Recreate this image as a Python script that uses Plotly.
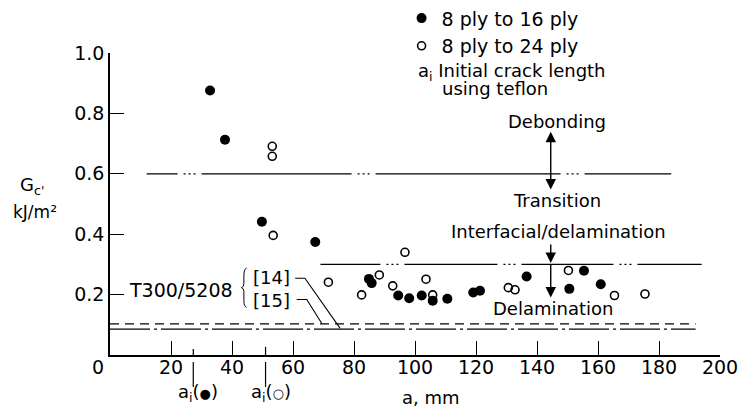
import plotly.graph_objects as go

# Critical strain energy release rate vs crack length, T300/5208 specimens
filled_a = [32.8, 37.7, 49.8, 67.3, 84.9, 85.8, 94.5, 98.1, 102.2, 105.8,
            110.6, 119.1, 121.3, 136.6, 150.6, 155.4, 160.9]
filled_g = [0.876, 0.713, 0.441, 0.374, 0.252, 0.238, 0.197, 0.188, 0.197, 0.180,
            0.186, 0.207, 0.213, 0.260, 0.219, 0.279, 0.234]

open_a = [53.2, 53.2, 53.5, 71.6, 82.5, 88.3, 92.7, 96.7, 103.6, 105.8,
          130.6, 132.8, 150.3, 165.4, 175.4]
open_g = [0.691, 0.658, 0.396, 0.241, 0.199, 0.265, 0.229, 0.340, 0.251, 0.199,
          0.223, 0.216, 0.280, 0.197, 0.202]

series_names = ["8 ply to 16 ply", "8 ply to 24 ply"]

# Failure-mode boundaries and literature values
debond_level, debond_span = 0.6, [12, 184]
delam_level, delam_span = 0.3, [69, 194]
ref14_level, ref15_level = 0.086, 0.103
ref_span = [0, 192]

# Initial crack lengths (teflon inserts)
ai_filled, ai_open = 27.3, 51.0

x_ticks = [0, 20, 40, 60, 80, 100, 120, 140, 160, 180, 200]
y_ticks = [0.2, 0.4, 0.6, 0.8, 1.0]

X_MAX = 200.0
FONT = "DejaVu Sans"
INK = "black"


def dots(gap=6):
    return [gap, 2, 3, 2, 3, 2, gap]


def dash(parts):
    return ",".join(f"{p}px" for p in parts)


debond_dash = dash([31] + dots() + [150] + dots() + [185] + dots() + [200, 10])
delam_dash = dash([60] + dots() + [93] + dots() + [92] + dots() + [80, 10])

fig = go.Figure()

# boundary lines
fig.add_trace(go.Scatter(x=debond_span, y=[debond_level] * 2, mode="lines",
                         line=dict(color=INK, width=1.2, dash=debond_dash),
                         showlegend=False, hoverinfo="skip"))
fig.add_trace(go.Scatter(x=delam_span, y=[delam_level] * 2, mode="lines",
                         line=dict(color=INK, width=1.2, dash=delam_dash),
                         showlegend=False, hoverinfo="skip"))
fig.add_trace(go.Scatter(x=ref_span, y=[ref15_level] * 2, mode="lines",
                         line=dict(color=INK, width=1.1, dash="9px,6px"),
                         showlegend=False, hoverinfo="skip"))
fig.add_trace(go.Scatter(x=ref_span, y=[ref14_level] * 2, mode="lines",
                         line=dict(color=INK, width=1.3, dash="40px,4px,3px,4px"),
                         showlegend=False, hoverinfo="skip"))

# measured points
fig.add_trace(go.Scatter(x=filled_a, y=filled_g, mode="markers", name=series_names[0],
                         marker=dict(symbol="circle", size=10, color=INK),
                         cliponaxis=False))
fig.add_trace(go.Scatter(x=open_a, y=open_g, mode="markers", name=series_names[1],
                         marker=dict(symbol="circle-open", size=8, color=INK,
                                     line=dict(width=1.6, color=INK)),
                         cliponaxis=False))

ann = []


def label(x, y, text, size=18, xanchor="center", outside=False):
    # y axis spans 0..1, so a value maps straight onto paper height
    ann.append(dict(x=x / X_MAX if outside else x, y=y,
                    xref="paper" if outside else "x",
                    yref="paper" if outside else "y",
                    text=text, showarrow=False,
                    xanchor=xanchor, yanchor="middle",
                    font=dict(family=FONT, size=size, color=INK)))


label(146.5, 0.772, "Debonding")
label(146.5, 0.513, "Transition")
label(147.0, 0.408, "Interfacial/delamination")
label(145.2, 0.155, "Delamination")
label(23.3, 0.215, "T300/5208", size=19)
label(52.8, 0.255, "[14]")
label(52.8, 0.182, "[15]")
label(100.2, 0.937, "a<sub>i</sub> Initial crack length", xanchor="left")
label(108.3, 0.882, "using teflon", xanchor="left")
label(105.2, -0.142, "a, mm", outside=True)
label(28.9, -0.126, "a<sub>i</sub>(<span style='font-size:13px'>●</span>)", outside=True)
label(52.8, -0.126, "a<sub>i</sub>(<span style='font-size:13px'>○</span>)", outside=True)
label(-25.6, 0.56, "G<sub>c'</sub>", outside=True)
label(-24.6, 0.473, "kJ/m²", size=17, outside=True)


def arrow(x, y_tip, y_tail, both=False):
    ann.append(dict(x=x, y=y_tip, ax=x, ay=y_tail, xref="x", yref="y",
                    axref="x", ayref="y", text="", showarrow=True,
                    arrowhead=2, arrowsize=1.5, arrowwidth=1.4, arrowcolor=INK,
                    startarrowhead=2, startarrowsize=1.5,
                    arrowside="end+start" if both else "end",
                    standoff=0, startstandoff=0))


arrow(144.5, 0.739, 0.543, both=True)
arrow(144.5, 0.305, 0.371)
arrow(144.5, 0.190, 0.305)

shapes = []
line_style = dict(color=INK, width=1.2)
# initial crack length markers on the a axis
for xv, inner in ((ai_filled, 0.02), (ai_open, 0.027)):
    shapes.append(dict(type="line", xref="x", yref="paper", x0=xv, x1=xv,
                       y0=-0.023, y1=-0.106, line=line_style))
    shapes.append(dict(type="line", xref="x", yref="paper", x0=xv, x1=xv,
                       y0=0, y1=inner, line=line_style))

# leader lines for the literature references
shapes.append(dict(type="path", xref="x", yref="y",
                   path="M 60.7,0.254 L 63.9,0.254 L 75.4,0.089",
                   line=dict(color=INK, width=1.1)))
shapes.append(dict(type="path", xref="x", yref="y",
                   path="M 61.2,0.184 L 64.5,0.184 L 69.4,0.105",
                   line=dict(color=INK, width=1.1)))
# brace grouping [14] and [15]
shapes.append(dict(type="path", xref="x", yref="y",
                   path="M 44.8,0.288 Q 43.9,0.285 43.9,0.262 L 43.9,0.236 "
                        "Q 43.9,0.225 43.1,0.223 Q 43.9,0.221 43.9,0.21 "
                        "L 43.9,0.18 Q 43.9,0.16 44.8,0.158",
                   line=dict(color=INK, width=1.0)))

fig.update_layout(
    width=741, height=408,
    margin=dict(l=110, r=21, t=53, b=53, autoexpand=False),
    plot_bgcolor="white", paper_bgcolor="white",
    font=dict(family=FONT, size=18, color=INK),
    annotations=ann, shapes=shapes,
    showlegend=True,
    legend=dict(x=0.478, y=1.178, xanchor="left", yanchor="top",
                bgcolor="rgba(0,0,0,0)", font=dict(family=FONT, size=19),
                itemwidth=30, tracegroupgap=0),
)
x_text = [str(v) for v in x_ticks]
x_text[0] = "0\u2007\u2007"  # the origin label sits left of the axis corner
fig.update_xaxes(range=[0, X_MAX], tickvals=x_ticks, ticktext=x_text,
                 ticks="inside", ticklen=14,
                 tickwidth=1.2, tickcolor=INK, showline=True, linecolor=INK,
                 linewidth=1.5, showgrid=False, zeroline=False,
                 ticklabelstandoff=-6,
                 tickfont=dict(family=FONT, size=19, color=INK))
fig.update_yaxes(range=[0, 1], tickvals=y_ticks, ticktext=[f"{v:.1f}" for v in y_ticks],
                 ticks="inside", ticklen=14, tickwidth=1.2, tickcolor=INK,
                 showline=True, linecolor=INK, linewidth=1.5, showgrid=False,
                 zeroline=False,
                 tickfont=dict(family=FONT, size=19, color=INK))

fig.write_html("out.html")
